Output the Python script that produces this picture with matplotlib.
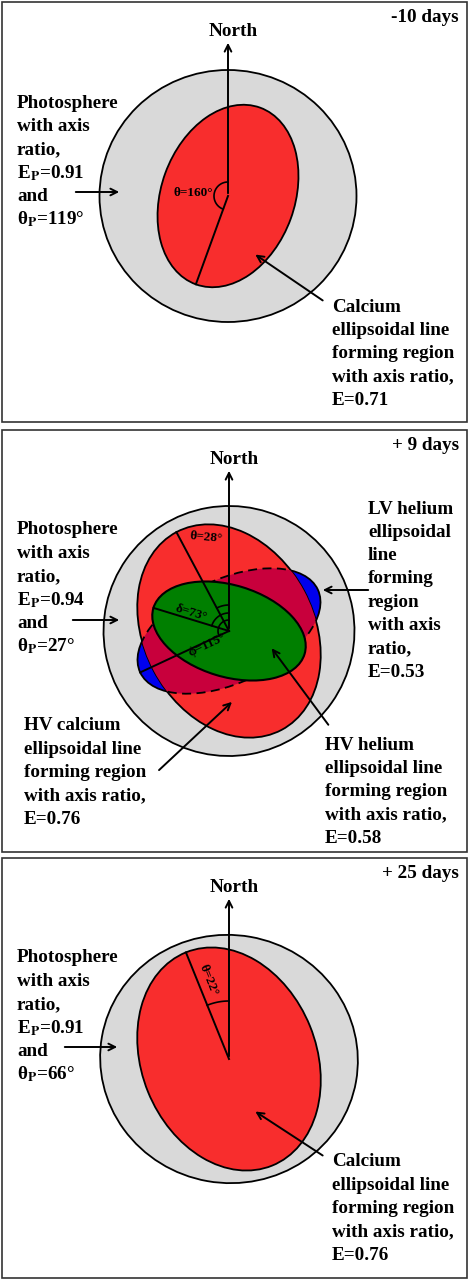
import numpy as np
import matplotlib
matplotlib.use('Agg')
import matplotlib.pyplot as plt
from matplotlib.patches import Ellipse, Rectangle

plt.rcParams['font.family'] = ['Liberation Serif', 'DejaVu Serif']
plt.rcParams['mathtext.fontset'] = 'stix'

GRAY = '#d9d9d9'
RED = '#f82d2d'
CRIMSON = '#c8003c'
BLUE = '#0000ee'
GREEN = '#007f00'

# panel frames (top, bottom) in pixels
panel_top = [2, 430, 858]
panel_bottom = [422, 852, 1278]
panel_titles = ['-10 days', '+ 9 days', '+ 25 days']

# ellipse centres
centres = [(228, 196), (229, 631), (229, 1059)]

# photosphere (width, height, angle)
photo = [(257, 252, 0), (251, 250, -10), (258, 248, 10)]

# calcium region: semi-major, axis ratio, position angle
ca_a = [94, 112, 115]
ca_E = [0.71, 0.76, 0.76]
ca_theta = [160, 28, 22]

# panel 2 helium regions
lv_a, lv_E, lv_phi = 98, 0.53, 115
hv_a, hv_E, hv_delta = 79, 0.58, 73

fig = plt.figure(figsize=(4.69, 12.8), dpi=100)
ax = fig.add_axes([0, 0, 1, 1])
ax.set_xlim(0, 469)
ax.set_ylim(1280, 0)
ax.axis('off')

bold = dict(fontweight='bold', fontsize=13.8, color='black')
small = dict(fontweight='bold', fontsize=9.5, color='black')


def pa_point(c, pa, r):
    t = np.radians(pa)
    return c[0] - r * np.sin(t), c[1] - r * np.cos(t)


def ray(c, pa, r):
    x, y = pa_point(c, pa, r)
    ax.plot([c[0], x], [c[1], y], color='black', lw=1.4, zorder=6)


def arc(c, pa, r):
    p = np.linspace(0, pa, 60)
    x, y = pa_point(c, p, r)
    ax.plot(x, y, color='black', lw=1.2, zorder=6)


def arrow(x0, y0, x1, y1):
    ax.annotate('', xy=(x1, y1), xytext=(x0, y0),
                arrowprops=dict(arrowstyle='->', lw=1.4, color='black',
                                mutation_scale=12), zorder=8)


def lines(x, y0, txt, step=23.3):
    for i, t in enumerate(txt):
        ax.text(x, y0 + i * step, t, ha='left', va='center', zorder=9, **bold)


for i in range(3):
    top, bot = panel_top[i], panel_bottom[i]
    ax.add_patch(Rectangle((2, top), 465, bot - top, fill=False, ec='#333333', lw=1.2))
    ax.text(459, top + 16, panel_titles[i], ha='right', va='center', **bold)
    c = centres[i]
    w, h, ang = photo[i]
    ax.add_patch(Ellipse(c, w, h, angle=ang, fc=GRAY, ec='black', lw=1.3, zorder=1))
    a = ca_a[i]
    b = a * ca_E[i]
    ang_ca = -ca_theta[i] if i > 0 else 180 - ca_theta[i]
    red = Ellipse(c, 2 * b, 2 * a, angle=ang_ca, fc=RED, ec='black', lw=1.3, zorder=3)
    if i == 1:
        lv_b = lv_a * lv_E
        ax.add_patch(Ellipse(c, 2 * lv_a, 2 * lv_b, angle=-(lv_phi - 90),
                             fc=BLUE, ec='black', lw=1.3, zorder=2))
    ax.add_patch(red)
    if i == 1:
        ov = Ellipse(c, 2 * lv_a, 2 * lv_b, angle=-(lv_phi - 90),
                     fc=CRIMSON, ec='black', lw=1.3, ls=(0, (5, 3)), zorder=4)
        ax.add_patch(ov)
        ov.set_clip_path(red)
        hv_b = hv_a * hv_E
        ax.add_patch(Ellipse(c, 2 * hv_a, 2 * hv_b, angle=90 - hv_delta,
                             fc=GREEN, ec='black', lw=1.5, zorder=5))
    # north arrow
    arrow(c[0], c[1], c[0], top + 38)
    ax.text(c[0] + 5, top + 30, 'North', ha='center', va='center', **bold)

# panel 1 annotations
c = centres[0]
ray(c, ca_theta[0], ca_a[0])
arc(c, ca_theta[0], 14)
ax.text(213, 193, 'θ=160°', ha='right', va='center', zorder=9, **small)
lines(17, 103, ['Photosphere', 'with axis', 'ratio,', r'E$_\mathbf{P}$=0.91', 'and',
                r'θ$_\mathbf{P}$=119°'])
arrow(73, 192, 122, 192)
lines(332, 307, ['Calcium', 'ellipsoidal line', 'forming region',
                 'with axis ratio,', 'E=0.71'])
arrow(325, 302, 253, 253)

# panel 2 annotations
c = centres[1]
ray(c, ca_theta[1], ca_a[1])
ray(c, hv_delta, hv_a)
ray(c, lv_phi, lv_a)
arc(c, ca_theta[1], 26)
arc(c, hv_delta, 18)
arc(c, lv_phi, 11)
ax.text(206, 537, 'θ=28°', ha='center', va='center', rotation=-5, zorder=9, **small)
ax.text(191, 613, 'δ=73°', ha='center', va='center', rotation=-17, zorder=9, **small)
ax.text(207, 645, 'ϕ=115°', ha='center', va='center', rotation=25, zorder=9, **small)
lines(17, 530, ['Photosphere', 'with axis', 'ratio,', r'E$_\mathbf{P}$=0.94', 'and',
                r'θ$_\mathbf{P}$=27°'])
arrow(70, 620, 122, 620)
lines(368, 509, ['LV helium', 'ellipsoidal', 'line', 'forming', 'region',
                 'with axis', 'ratio,', 'E=0.53'])
arrow(371, 590, 320, 590)
lines(24, 726, ['HV calcium', 'ellipsoidal line', 'forming region',
                'with axis ratio,', 'E=0.76'])
arrow(157, 772, 234, 700)
lines(325, 745, ['HV helium', 'ellipsoidal line', 'forming region',
                 'with axis ratio,', 'E=0.58'])
arrow(330, 727, 270, 646)

# panel 3 annotations
c = centres[2]
ray(c, ca_theta[2], ca_a[2])
arc(c, ca_theta[2], 58)
ax.text(208, 980, 'θ=22°', ha='center', va='center', rotation=-68, zorder=9, **small)
lines(17, 958, ['Photosphere', 'with axis', 'ratio,', r'E$_\mathbf{P}$=0.91', 'and',
                r'θ$_\mathbf{P}$=66°'])
arrow(62, 1047, 120, 1047)
lines(332, 1162, ['Calcium', 'ellipsoidal line', 'forming region',
                  'with axis ratio,', 'E=0.76'])
arrow(325, 1157, 253, 1110)

fig.savefig('out.png', dpi=100)
